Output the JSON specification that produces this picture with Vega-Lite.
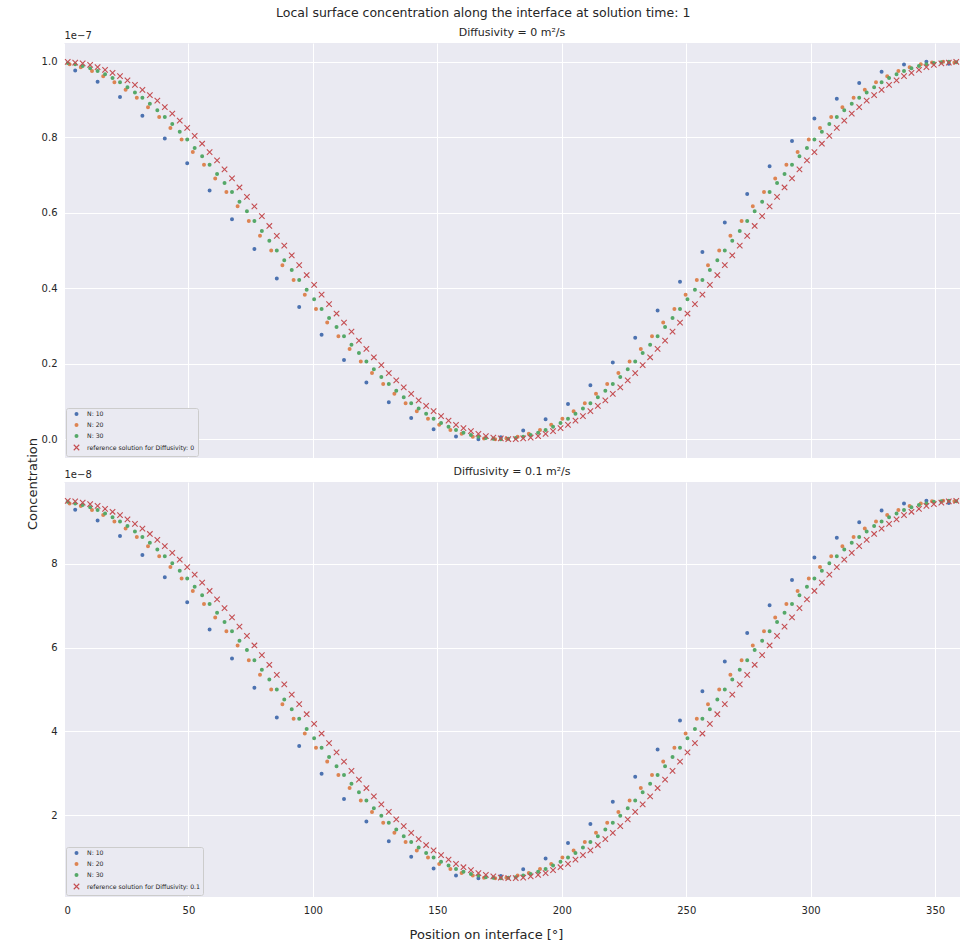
{
"$schema": "https://vega.github.io/schema/vega-lite/v6.json",
"background": "white",
"autosize": {"type": "pad"},
"padding": {"left": 27, "top": 6, "right": 2, "bottom": 1},
"title": {"text": "Local surface concentration along the interface at solution time: 1", "anchor": "middle", "fontSize": 12.5, "fontWeight": "normal", "color": "#262626", "offset": 8, "dx": -11, "font": "DejaVu Sans"},
"config": {
  "font": "DejaVu Sans",
  "view": {"fill": "#eaeaf2", "stroke": null},
  "axis": {"domain": false, "ticks": false, "grid": true, "gridColor": "#ffffff", "gridWidth": 1, "gridOpacity": 1, "labelColor": "#262626", "labelFontSize": 10, "titleColor": "#262626", "titleFontWeight": "normal", "labelFont": "DejaVu Sans", "titleFont": "DejaVu Sans", "labelPadding": 7},
  "title": {"font": "DejaVu Sans", "color": "#262626", "fontWeight": "normal"},
  "legend": {"labelFont": "DejaVu Sans"}
},
"datasets": {
"top": [
{"s":"10","x":4.5,"y":0.977},{"s":"10","x":13.5,"y":0.947},{"s":"10","x":22.5,"y":0.907},{"s":"10","x":31.5,"y":0.857},{"s":"10","x":40.5,"y":0.797},{"s":"10","x":49.5,"y":0.731},{"s":"10","x":58.5,"y":0.659},{"s":"10","x":67.5,"y":0.583},{"s":"10","x":76.5,"y":0.504},{"s":"10","x":85.5,"y":0.426},{"s":"10","x":94.5,"y":0.35},{"s":"10","x":103.5,"y":0.277},{"s":"10","x":112.5,"y":0.21},{"s":"10","x":121.5,"y":0.15},{"s":"10","x":130.5,"y":0.098},{"s":"10","x":139.5,"y":0.056},{"s":"10","x":148.5,"y":0.026},{"s":"10","x":157.5,"y":0.007},{"s":"10","x":166.5,"y":0},{"s":"10","x":175.5,"y":0.005},{"s":"10","x":184.5,"y":0.023},{"s":"10","x":193.5,"y":0.053},{"s":"10","x":202.5,"y":0.093},{"s":"10","x":211.5,"y":0.143},{"s":"10","x":220.5,"y":0.203},{"s":"10","x":229.5,"y":0.269},{"s":"10","x":238.5,"y":0.341},{"s":"10","x":247.5,"y":0.417},{"s":"10","x":256.5,"y":0.496},{"s":"10","x":265.5,"y":0.574},{"s":"10","x":274.5,"y":0.65},{"s":"10","x":283.5,"y":0.723},{"s":"10","x":292.5,"y":0.79},{"s":"10","x":301.5,"y":0.85},{"s":"10","x":310.5,"y":0.902},{"s":"10","x":319.5,"y":0.944},{"s":"10","x":328.5,"y":0.974},{"s":"10","x":337.5,"y":0.993},{"s":"10","x":346.5,"y":1},{"s":"10","x":355.5,"y":0.995},
{"s":"20","x":2.25,"y":0.994},{"s":"20","x":6.75,"y":0.986},{"s":"20","x":11.25,"y":0.976},{"s":"20","x":15.75,"y":0.962},{"s":"20","x":20.25,"y":0.946},{"s":"20","x":24.75,"y":0.926},{"s":"20","x":29.25,"y":0.905},{"s":"20","x":33.75,"y":0.88},{"s":"20","x":38.25,"y":0.854},{"s":"20","x":42.75,"y":0.825},{"s":"20","x":47.25,"y":0.794},{"s":"20","x":51.75,"y":0.761},{"s":"20","x":56.25,"y":0.727},{"s":"20","x":60.75,"y":0.691},{"s":"20","x":65.25,"y":0.655},{"s":"20","x":69.75,"y":0.617},{"s":"20","x":74.25,"y":0.578},{"s":"20","x":78.75,"y":0.539},{"s":"20","x":83.25,"y":0.5},{"s":"20","x":87.75,"y":0.461},{"s":"20","x":92.25,"y":0.422},{"s":"20","x":96.75,"y":0.383},{"s":"20","x":101.25,"y":0.345},{"s":"20","x":105.75,"y":0.309},{"s":"20","x":110.25,"y":0.273},{"s":"20","x":114.75,"y":0.239},{"s":"20","x":119.25,"y":0.206},{"s":"20","x":123.75,"y":0.175},{"s":"20","x":128.25,"y":0.146},{"s":"20","x":132.75,"y":0.12},{"s":"20","x":137.25,"y":0.095},{"s":"20","x":141.75,"y":0.074},{"s":"20","x":146.25,"y":0.054},{"s":"20","x":150.75,"y":0.038},{"s":"20","x":155.25,"y":0.024},{"s":"20","x":159.75,"y":0.014},{"s":"20","x":164.25,"y":0.006},{"s":"20","x":168.75,"y":0.002},{"s":"20","x":173.25,"y":0},{"s":"20","x":177.75,"y":0.002},{"s":"20","x":182.25,"y":0.006},{"s":"20","x":186.75,"y":0.014},{"s":"20","x":191.25,"y":0.024},{"s":"20","x":195.75,"y":0.038},{"s":"20","x":200.25,"y":0.054},{"s":"20","x":204.75,"y":0.074},{"s":"20","x":209.25,"y":0.095},{"s":"20","x":213.75,"y":0.12},{"s":"20","x":218.25,"y":0.146},{"s":"20","x":222.75,"y":0.175},{"s":"20","x":227.25,"y":0.206},{"s":"20","x":231.75,"y":0.239},{"s":"20","x":236.25,"y":0.273},{"s":"20","x":240.75,"y":0.309},{"s":"20","x":245.25,"y":0.345},{"s":"20","x":249.75,"y":0.383},{"s":"20","x":254.25,"y":0.422},{"s":"20","x":258.75,"y":0.461},{"s":"20","x":263.25,"y":0.5},{"s":"20","x":267.75,"y":0.539},{"s":"20","x":272.25,"y":0.578},{"s":"20","x":276.75,"y":0.617},{"s":"20","x":281.25,"y":0.655},{"s":"20","x":285.75,"y":0.691},{"s":"20","x":290.25,"y":0.727},{"s":"20","x":294.75,"y":0.761},{"s":"20","x":299.25,"y":0.794},{"s":"20","x":303.75,"y":0.825},{"s":"20","x":308.25,"y":0.854},{"s":"20","x":312.75,"y":0.88},{"s":"20","x":317.25,"y":0.905},{"s":"20","x":321.75,"y":0.926},{"s":"20","x":326.25,"y":0.946},{"s":"20","x":330.75,"y":0.962},{"s":"20","x":335.25,"y":0.976},{"s":"20","x":339.75,"y":0.986},{"s":"20","x":344.25,"y":0.994},{"s":"20","x":348.75,"y":0.998},{"s":"20","x":353.25,"y":1},{"s":"20","x":357.75,"y":0.998},
{"s":"30","x":1.5,"y":0.997},{"s":"30","x":4.5,"y":0.994},{"s":"30","x":7.5,"y":0.989},{"s":"30","x":10.5,"y":0.983},{"s":"30","x":13.5,"y":0.976},{"s":"30","x":16.5,"y":0.967},{"s":"30","x":19.5,"y":0.957},{"s":"30","x":22.5,"y":0.946},{"s":"30","x":25.5,"y":0.933},{"s":"30","x":28.5,"y":0.919},{"s":"30","x":31.5,"y":0.905},{"s":"30","x":34.5,"y":0.889},{"s":"30","x":37.5,"y":0.872},{"s":"30","x":40.5,"y":0.854},{"s":"30","x":43.5,"y":0.835},{"s":"30","x":46.5,"y":0.815},{"s":"30","x":49.5,"y":0.794},{"s":"30","x":52.5,"y":0.772},{"s":"30","x":55.5,"y":0.75},{"s":"30","x":58.5,"y":0.727},{"s":"30","x":61.5,"y":0.703},{"s":"30","x":64.5,"y":0.679},{"s":"30","x":67.5,"y":0.655},{"s":"30","x":70.5,"y":0.629},{"s":"30","x":73.5,"y":0.604},{"s":"30","x":76.5,"y":0.578},{"s":"30","x":79.5,"y":0.552},{"s":"30","x":82.5,"y":0.526},{"s":"30","x":85.5,"y":0.5},{"s":"30","x":88.5,"y":0.474},{"s":"30","x":91.5,"y":0.448},{"s":"30","x":94.5,"y":0.422},{"s":"30","x":97.5,"y":0.396},{"s":"30","x":100.5,"y":0.371},{"s":"30","x":103.5,"y":0.345},{"s":"30","x":106.5,"y":0.321},{"s":"30","x":109.5,"y":0.297},{"s":"30","x":112.5,"y":0.273},{"s":"30","x":115.5,"y":0.25},{"s":"30","x":118.5,"y":0.228},{"s":"30","x":121.5,"y":0.206},{"s":"30","x":124.5,"y":0.185},{"s":"30","x":127.5,"y":0.165},{"s":"30","x":130.5,"y":0.146},{"s":"30","x":133.5,"y":0.128},{"s":"30","x":136.5,"y":0.111},{"s":"30","x":139.5,"y":0.095},{"s":"30","x":142.5,"y":0.081},{"s":"30","x":145.5,"y":0.067},{"s":"30","x":148.5,"y":0.054},{"s":"30","x":151.5,"y":0.043},{"s":"30","x":154.5,"y":0.033},{"s":"30","x":157.5,"y":0.024},{"s":"30","x":160.5,"y":0.017},{"s":"30","x":163.5,"y":0.011},{"s":"30","x":166.5,"y":0.006},{"s":"30","x":169.5,"y":0.003},{"s":"30","x":172.5,"y":0.001},{"s":"30","x":175.5,"y":0},{"s":"30","x":178.5,"y":0.001},{"s":"30","x":181.5,"y":0.003},{"s":"30","x":184.5,"y":0.006},{"s":"30","x":187.5,"y":0.011},{"s":"30","x":190.5,"y":0.017},{"s":"30","x":193.5,"y":0.024},{"s":"30","x":196.5,"y":0.033},{"s":"30","x":199.5,"y":0.043},{"s":"30","x":202.5,"y":0.054},{"s":"30","x":205.5,"y":0.067},{"s":"30","x":208.5,"y":0.081},{"s":"30","x":211.5,"y":0.095},{"s":"30","x":214.5,"y":0.111},{"s":"30","x":217.5,"y":0.128},{"s":"30","x":220.5,"y":0.146},{"s":"30","x":223.5,"y":0.165},{"s":"30","x":226.5,"y":0.185},{"s":"30","x":229.5,"y":0.206},{"s":"30","x":232.5,"y":0.228},{"s":"30","x":235.5,"y":0.25},{"s":"30","x":238.5,"y":0.273},{"s":"30","x":241.5,"y":0.297},{"s":"30","x":244.5,"y":0.321},{"s":"30","x":247.5,"y":0.345},{"s":"30","x":250.5,"y":0.371},{"s":"30","x":253.5,"y":0.396},{"s":"30","x":256.5,"y":0.422},{"s":"30","x":259.5,"y":0.448},{"s":"30","x":262.5,"y":0.474},{"s":"30","x":265.5,"y":0.5},{"s":"30","x":268.5,"y":0.526},{"s":"30","x":271.5,"y":0.552},{"s":"30","x":274.5,"y":0.578},{"s":"30","x":277.5,"y":0.604},{"s":"30","x":280.5,"y":0.629},{"s":"30","x":283.5,"y":0.655},{"s":"30","x":286.5,"y":0.679},{"s":"30","x":289.5,"y":0.703},{"s":"30","x":292.5,"y":0.727},{"s":"30","x":295.5,"y":0.75},{"s":"30","x":298.5,"y":0.772},{"s":"30","x":301.5,"y":0.794},{"s":"30","x":304.5,"y":0.815},{"s":"30","x":307.5,"y":0.835},{"s":"30","x":310.5,"y":0.854},{"s":"30","x":313.5,"y":0.872},{"s":"30","x":316.5,"y":0.889},{"s":"30","x":319.5,"y":0.905},{"s":"30","x":322.5,"y":0.919},{"s":"30","x":325.5,"y":0.933},{"s":"30","x":328.5,"y":0.946},{"s":"30","x":331.5,"y":0.957},{"s":"30","x":334.5,"y":0.967},{"s":"30","x":337.5,"y":0.976},{"s":"30","x":340.5,"y":0.983},{"s":"30","x":343.5,"y":0.989},{"s":"30","x":346.5,"y":0.994},{"s":"30","x":349.5,"y":0.997},{"s":"30","x":352.5,"y":0.999},{"s":"30","x":355.5,"y":1},{"s":"30","x":358.5,"y":0.999},
{"s":"r","x":1.5,"y":1},{"s":"r","x":4.5,"y":0.998},{"s":"r","x":7.5,"y":0.996},{"s":"r","x":10.5,"y":0.992},{"s":"r","x":13.5,"y":0.986},{"s":"r","x":16.5,"y":0.979},{"s":"r","x":19.5,"y":0.971},{"s":"r","x":22.5,"y":0.962},{"s":"r","x":25.5,"y":0.951},{"s":"r","x":28.5,"y":0.939},{"s":"r","x":31.5,"y":0.926},{"s":"r","x":34.5,"y":0.912},{"s":"r","x":37.5,"y":0.897},{"s":"r","x":40.5,"y":0.88},{"s":"r","x":43.5,"y":0.863},{"s":"r","x":46.5,"y":0.844},{"s":"r","x":49.5,"y":0.825},{"s":"r","x":52.5,"y":0.804},{"s":"r","x":55.5,"y":0.783},{"s":"r","x":58.5,"y":0.761},{"s":"r","x":61.5,"y":0.739},{"s":"r","x":64.5,"y":0.715},{"s":"r","x":67.5,"y":0.691},{"s":"r","x":70.5,"y":0.667},{"s":"r","x":73.5,"y":0.642},{"s":"r","x":76.5,"y":0.617},{"s":"r","x":79.5,"y":0.591},{"s":"r","x":82.5,"y":0.565},{"s":"r","x":85.5,"y":0.539},{"s":"r","x":88.5,"y":0.513},{"s":"r","x":91.5,"y":0.487},{"s":"r","x":94.5,"y":0.461},{"s":"r","x":97.5,"y":0.435},{"s":"r","x":100.5,"y":0.409},{"s":"r","x":103.5,"y":0.383},{"s":"r","x":106.5,"y":0.358},{"s":"r","x":109.5,"y":0.333},{"s":"r","x":112.5,"y":0.309},{"s":"r","x":115.5,"y":0.285},{"s":"r","x":118.5,"y":0.261},{"s":"r","x":121.5,"y":0.239},{"s":"r","x":124.5,"y":0.217},{"s":"r","x":127.5,"y":0.196},{"s":"r","x":130.5,"y":0.175},{"s":"r","x":133.5,"y":0.156},{"s":"r","x":136.5,"y":0.137},{"s":"r","x":139.5,"y":0.12},{"s":"r","x":142.5,"y":0.103},{"s":"r","x":145.5,"y":0.088},{"s":"r","x":148.5,"y":0.074},{"s":"r","x":151.5,"y":0.061},{"s":"r","x":154.5,"y":0.049},{"s":"r","x":157.5,"y":0.038},{"s":"r","x":160.5,"y":0.029},{"s":"r","x":163.5,"y":0.021},{"s":"r","x":166.5,"y":0.014},{"s":"r","x":169.5,"y":0.008},{"s":"r","x":172.5,"y":0.004},{"s":"r","x":175.5,"y":0.002},{"s":"r","x":178.5,"y":0},{"s":"r","x":181.5,"y":0},{"s":"r","x":184.5,"y":0.002},{"s":"r","x":187.5,"y":0.004},{"s":"r","x":190.5,"y":0.008},{"s":"r","x":193.5,"y":0.014},{"s":"r","x":196.5,"y":0.021},{"s":"r","x":199.5,"y":0.029},{"s":"r","x":202.5,"y":0.038},{"s":"r","x":205.5,"y":0.049},{"s":"r","x":208.5,"y":0.061},{"s":"r","x":211.5,"y":0.074},{"s":"r","x":214.5,"y":0.088},{"s":"r","x":217.5,"y":0.103},{"s":"r","x":220.5,"y":0.12},{"s":"r","x":223.5,"y":0.137},{"s":"r","x":226.5,"y":0.156},{"s":"r","x":229.5,"y":0.175},{"s":"r","x":232.5,"y":0.196},{"s":"r","x":235.5,"y":0.217},{"s":"r","x":238.5,"y":0.239},{"s":"r","x":241.5,"y":0.261},{"s":"r","x":244.5,"y":0.285},{"s":"r","x":247.5,"y":0.309},{"s":"r","x":250.5,"y":0.333},{"s":"r","x":253.5,"y":0.358},{"s":"r","x":256.5,"y":0.383},{"s":"r","x":259.5,"y":0.409},{"s":"r","x":262.5,"y":0.435},{"s":"r","x":265.5,"y":0.461},{"s":"r","x":268.5,"y":0.487},{"s":"r","x":271.5,"y":0.513},{"s":"r","x":274.5,"y":0.539},{"s":"r","x":277.5,"y":0.565},{"s":"r","x":280.5,"y":0.591},{"s":"r","x":283.5,"y":0.617},{"s":"r","x":286.5,"y":0.642},{"s":"r","x":289.5,"y":0.667},{"s":"r","x":292.5,"y":0.691},{"s":"r","x":295.5,"y":0.715},{"s":"r","x":298.5,"y":0.739},{"s":"r","x":301.5,"y":0.761},{"s":"r","x":304.5,"y":0.783},{"s":"r","x":307.5,"y":0.804},{"s":"r","x":310.5,"y":0.825},{"s":"r","x":313.5,"y":0.844},{"s":"r","x":316.5,"y":0.863},{"s":"r","x":319.5,"y":0.88},{"s":"r","x":322.5,"y":0.897},{"s":"r","x":325.5,"y":0.912},{"s":"r","x":328.5,"y":0.926},{"s":"r","x":331.5,"y":0.939},{"s":"r","x":334.5,"y":0.951},{"s":"r","x":337.5,"y":0.962},{"s":"r","x":340.5,"y":0.971},{"s":"r","x":343.5,"y":0.979},{"s":"r","x":346.5,"y":0.986},{"s":"r","x":349.5,"y":0.992},{"s":"r","x":352.5,"y":0.996},{"s":"r","x":355.5,"y":0.998},{"s":"r","x":358.5,"y":1}
],
"bot": [
{"s":"10","x":4.5,"y":9.29},{"s":"10","x":13.5,"y":9.03},{"s":"10","x":22.5,"y":8.66},{"s":"10","x":31.5,"y":8.21},{"s":"10","x":40.5,"y":7.68},{"s":"10","x":49.5,"y":7.08},{"s":"10","x":58.5,"y":6.43},{"s":"10","x":67.5,"y":5.74},{"s":"10","x":76.5,"y":5.04},{"s":"10","x":85.5,"y":4.33},{"s":"10","x":94.5,"y":3.65},{"s":"10","x":103.5,"y":2.99},{"s":"10","x":112.5,"y":2.39},{"s":"10","x":121.5,"y":1.85},{"s":"10","x":130.5,"y":1.38},{"s":"10","x":139.5,"y":1.01},{"s":"10","x":148.5,"y":0.73},{"s":"10","x":157.5,"y":0.56},{"s":"10","x":166.5,"y":0.5},{"s":"10","x":175.5,"y":0.55},{"s":"10","x":184.5,"y":0.71},{"s":"10","x":193.5,"y":0.97},{"s":"10","x":202.5,"y":1.34},{"s":"10","x":211.5,"y":1.79},{"s":"10","x":220.5,"y":2.32},{"s":"10","x":229.5,"y":2.92},{"s":"10","x":238.5,"y":3.57},{"s":"10","x":247.5,"y":4.26},{"s":"10","x":256.5,"y":4.96},{"s":"10","x":265.5,"y":5.67},{"s":"10","x":274.5,"y":6.35},{"s":"10","x":283.5,"y":7.01},{"s":"10","x":292.5,"y":7.61},{"s":"10","x":301.5,"y":8.15},{"s":"10","x":310.5,"y":8.62},{"s":"10","x":319.5,"y":8.99},{"s":"10","x":328.5,"y":9.27},{"s":"10","x":337.5,"y":9.44},{"s":"10","x":346.5,"y":9.5},{"s":"10","x":355.5,"y":9.45},
{"s":"20","x":2.25,"y":9.44},{"s":"20","x":6.75,"y":9.38},{"s":"20","x":11.25,"y":9.28},{"s":"20","x":15.75,"y":9.16},{"s":"20","x":20.25,"y":9.01},{"s":"20","x":24.75,"y":8.84},{"s":"20","x":29.25,"y":8.64},{"s":"20","x":33.75,"y":8.42},{"s":"20","x":38.25,"y":8.18},{"s":"20","x":42.75,"y":7.92},{"s":"20","x":47.25,"y":7.65},{"s":"20","x":51.75,"y":7.35},{"s":"20","x":56.25,"y":7.04},{"s":"20","x":60.75,"y":6.72},{"s":"20","x":65.25,"y":6.39},{"s":"20","x":69.75,"y":6.05},{"s":"20","x":74.25,"y":5.7},{"s":"20","x":78.75,"y":5.35},{"s":"20","x":83.25,"y":5},{"s":"20","x":87.75,"y":4.65},{"s":"20","x":92.25,"y":4.3},{"s":"20","x":96.75,"y":3.95},{"s":"20","x":101.25,"y":3.61},{"s":"20","x":105.75,"y":3.28},{"s":"20","x":110.25,"y":2.96},{"s":"20","x":114.75,"y":2.65},{"s":"20","x":119.25,"y":2.35},{"s":"20","x":123.75,"y":2.08},{"s":"20","x":128.25,"y":1.82},{"s":"20","x":132.75,"y":1.58},{"s":"20","x":137.25,"y":1.36},{"s":"20","x":141.75,"y":1.16},{"s":"20","x":146.25,"y":0.99},{"s":"20","x":150.75,"y":0.84},{"s":"20","x":155.25,"y":0.72},{"s":"20","x":159.75,"y":0.62},{"s":"20","x":164.25,"y":0.56},{"s":"20","x":168.75,"y":0.51},{"s":"20","x":173.25,"y":0.5},{"s":"20","x":177.75,"y":0.51},{"s":"20","x":182.25,"y":0.56},{"s":"20","x":186.75,"y":0.62},{"s":"20","x":191.25,"y":0.72},{"s":"20","x":195.75,"y":0.84},{"s":"20","x":200.25,"y":0.99},{"s":"20","x":204.75,"y":1.16},{"s":"20","x":209.25,"y":1.36},{"s":"20","x":213.75,"y":1.58},{"s":"20","x":218.25,"y":1.82},{"s":"20","x":222.75,"y":2.08},{"s":"20","x":227.25,"y":2.35},{"s":"20","x":231.75,"y":2.65},{"s":"20","x":236.25,"y":2.96},{"s":"20","x":240.75,"y":3.28},{"s":"20","x":245.25,"y":3.61},{"s":"20","x":249.75,"y":3.95},{"s":"20","x":254.25,"y":4.3},{"s":"20","x":258.75,"y":4.65},{"s":"20","x":263.25,"y":5},{"s":"20","x":267.75,"y":5.35},{"s":"20","x":272.25,"y":5.7},{"s":"20","x":276.75,"y":6.05},{"s":"20","x":281.25,"y":6.39},{"s":"20","x":285.75,"y":6.72},{"s":"20","x":290.25,"y":7.04},{"s":"20","x":294.75,"y":7.35},{"s":"20","x":299.25,"y":7.65},{"s":"20","x":303.75,"y":7.92},{"s":"20","x":308.25,"y":8.18},{"s":"20","x":312.75,"y":8.42},{"s":"20","x":317.25,"y":8.64},{"s":"20","x":321.75,"y":8.84},{"s":"20","x":326.25,"y":9.01},{"s":"20","x":330.75,"y":9.16},{"s":"20","x":335.25,"y":9.28},{"s":"20","x":339.75,"y":9.38},{"s":"20","x":344.25,"y":9.44},{"s":"20","x":348.75,"y":9.49},{"s":"20","x":353.25,"y":9.5},{"s":"20","x":357.75,"y":9.49},
{"s":"30","x":1.5,"y":9.48},{"s":"30","x":4.5,"y":9.44},{"s":"30","x":7.5,"y":9.4},{"s":"30","x":10.5,"y":9.35},{"s":"30","x":13.5,"y":9.28},{"s":"30","x":16.5,"y":9.2},{"s":"30","x":19.5,"y":9.11},{"s":"30","x":22.5,"y":9.01},{"s":"30","x":25.5,"y":8.9},{"s":"30","x":28.5,"y":8.77},{"s":"30","x":31.5,"y":8.64},{"s":"30","x":34.5,"y":8.5},{"s":"30","x":37.5,"y":8.34},{"s":"30","x":40.5,"y":8.18},{"s":"30","x":43.5,"y":8.01},{"s":"30","x":46.5,"y":7.83},{"s":"30","x":49.5,"y":7.65},{"s":"30","x":52.5,"y":7.45},{"s":"30","x":55.5,"y":7.25},{"s":"30","x":58.5,"y":7.04},{"s":"30","x":61.5,"y":6.83},{"s":"30","x":64.5,"y":6.61},{"s":"30","x":67.5,"y":6.39},{"s":"30","x":70.5,"y":6.16},{"s":"30","x":73.5,"y":5.94},{"s":"30","x":76.5,"y":5.7},{"s":"30","x":79.5,"y":5.47},{"s":"30","x":82.5,"y":5.24},{"s":"30","x":85.5,"y":5},{"s":"30","x":88.5,"y":4.76},{"s":"30","x":91.5,"y":4.53},{"s":"30","x":94.5,"y":4.3},{"s":"30","x":97.5,"y":4.06},{"s":"30","x":100.5,"y":3.84},{"s":"30","x":103.5,"y":3.61},{"s":"30","x":106.5,"y":3.39},{"s":"30","x":109.5,"y":3.17},{"s":"30","x":112.5,"y":2.96},{"s":"30","x":115.5,"y":2.75},{"s":"30","x":118.5,"y":2.55},{"s":"30","x":121.5,"y":2.35},{"s":"30","x":124.5,"y":2.17},{"s":"30","x":127.5,"y":1.99},{"s":"30","x":130.5,"y":1.82},{"s":"30","x":133.5,"y":1.66},{"s":"30","x":136.5,"y":1.5},{"s":"30","x":139.5,"y":1.36},{"s":"30","x":142.5,"y":1.23},{"s":"30","x":145.5,"y":1.1},{"s":"30","x":148.5,"y":0.99},{"s":"30","x":151.5,"y":0.89},{"s":"30","x":154.5,"y":0.8},{"s":"30","x":157.5,"y":0.72},{"s":"30","x":160.5,"y":0.65},{"s":"30","x":163.5,"y":0.6},{"s":"30","x":166.5,"y":0.56},{"s":"30","x":169.5,"y":0.52},{"s":"30","x":172.5,"y":0.51},{"s":"30","x":175.5,"y":0.5},{"s":"30","x":178.5,"y":0.51},{"s":"30","x":181.5,"y":0.52},{"s":"30","x":184.5,"y":0.56},{"s":"30","x":187.5,"y":0.6},{"s":"30","x":190.5,"y":0.65},{"s":"30","x":193.5,"y":0.72},{"s":"30","x":196.5,"y":0.8},{"s":"30","x":199.5,"y":0.89},{"s":"30","x":202.5,"y":0.99},{"s":"30","x":205.5,"y":1.1},{"s":"30","x":208.5,"y":1.23},{"s":"30","x":211.5,"y":1.36},{"s":"30","x":214.5,"y":1.5},{"s":"30","x":217.5,"y":1.66},{"s":"30","x":220.5,"y":1.82},{"s":"30","x":223.5,"y":1.99},{"s":"30","x":226.5,"y":2.17},{"s":"30","x":229.5,"y":2.35},{"s":"30","x":232.5,"y":2.55},{"s":"30","x":235.5,"y":2.75},{"s":"30","x":238.5,"y":2.96},{"s":"30","x":241.5,"y":3.17},{"s":"30","x":244.5,"y":3.39},{"s":"30","x":247.5,"y":3.61},{"s":"30","x":250.5,"y":3.84},{"s":"30","x":253.5,"y":4.06},{"s":"30","x":256.5,"y":4.3},{"s":"30","x":259.5,"y":4.53},{"s":"30","x":262.5,"y":4.76},{"s":"30","x":265.5,"y":5},{"s":"30","x":268.5,"y":5.24},{"s":"30","x":271.5,"y":5.47},{"s":"30","x":274.5,"y":5.7},{"s":"30","x":277.5,"y":5.94},{"s":"30","x":280.5,"y":6.16},{"s":"30","x":283.5,"y":6.39},{"s":"30","x":286.5,"y":6.61},{"s":"30","x":289.5,"y":6.83},{"s":"30","x":292.5,"y":7.04},{"s":"30","x":295.5,"y":7.25},{"s":"30","x":298.5,"y":7.45},{"s":"30","x":301.5,"y":7.65},{"s":"30","x":304.5,"y":7.83},{"s":"30","x":307.5,"y":8.01},{"s":"30","x":310.5,"y":8.18},{"s":"30","x":313.5,"y":8.34},{"s":"30","x":316.5,"y":8.5},{"s":"30","x":319.5,"y":8.64},{"s":"30","x":322.5,"y":8.77},{"s":"30","x":325.5,"y":8.9},{"s":"30","x":328.5,"y":9.01},{"s":"30","x":331.5,"y":9.11},{"s":"30","x":334.5,"y":9.2},{"s":"30","x":337.5,"y":9.28},{"s":"30","x":340.5,"y":9.35},{"s":"30","x":343.5,"y":9.4},{"s":"30","x":346.5,"y":9.44},{"s":"30","x":349.5,"y":9.48},{"s":"30","x":352.5,"y":9.49},{"s":"30","x":355.5,"y":9.5},{"s":"30","x":358.5,"y":9.49},
{"s":"r","x":1.5,"y":9.5},{"s":"r","x":4.5,"y":9.49},{"s":"r","x":7.5,"y":9.46},{"s":"r","x":10.5,"y":9.42},{"s":"r","x":13.5,"y":9.38},{"s":"r","x":16.5,"y":9.31},{"s":"r","x":19.5,"y":9.24},{"s":"r","x":22.5,"y":9.16},{"s":"r","x":25.5,"y":9.06},{"s":"r","x":28.5,"y":8.95},{"s":"r","x":31.5,"y":8.84},{"s":"r","x":34.5,"y":8.71},{"s":"r","x":37.5,"y":8.57},{"s":"r","x":40.5,"y":8.42},{"s":"r","x":43.5,"y":8.26},{"s":"r","x":46.5,"y":8.1},{"s":"r","x":49.5,"y":7.92},{"s":"r","x":52.5,"y":7.74},{"s":"r","x":55.5,"y":7.55},{"s":"r","x":58.5,"y":7.35},{"s":"r","x":61.5,"y":7.15},{"s":"r","x":64.5,"y":6.94},{"s":"r","x":67.5,"y":6.72},{"s":"r","x":70.5,"y":6.5},{"s":"r","x":73.5,"y":6.28},{"s":"r","x":76.5,"y":6.05},{"s":"r","x":79.5,"y":5.82},{"s":"r","x":82.5,"y":5.59},{"s":"r","x":85.5,"y":5.35},{"s":"r","x":88.5,"y":5.12},{"s":"r","x":91.5,"y":4.88},{"s":"r","x":94.5,"y":4.65},{"s":"r","x":97.5,"y":4.41},{"s":"r","x":100.5,"y":4.18},{"s":"r","x":103.5,"y":3.95},{"s":"r","x":106.5,"y":3.72},{"s":"r","x":109.5,"y":3.5},{"s":"r","x":112.5,"y":3.28},{"s":"r","x":115.5,"y":3.06},{"s":"r","x":118.5,"y":2.85},{"s":"r","x":121.5,"y":2.65},{"s":"r","x":124.5,"y":2.45},{"s":"r","x":127.5,"y":2.26},{"s":"r","x":130.5,"y":2.08},{"s":"r","x":133.5,"y":1.9},{"s":"r","x":136.5,"y":1.74},{"s":"r","x":139.5,"y":1.58},{"s":"r","x":142.5,"y":1.43},{"s":"r","x":145.5,"y":1.29},{"s":"r","x":148.5,"y":1.16},{"s":"r","x":151.5,"y":1.05},{"s":"r","x":154.5,"y":0.94},{"s":"r","x":157.5,"y":0.84},{"s":"r","x":160.5,"y":0.76},{"s":"r","x":163.5,"y":0.69},{"s":"r","x":166.5,"y":0.62},{"s":"r","x":169.5,"y":0.58},{"s":"r","x":172.5,"y":0.54},{"s":"r","x":175.5,"y":0.51},{"s":"r","x":178.5,"y":0.5},{"s":"r","x":181.5,"y":0.5},{"s":"r","x":184.5,"y":0.51},{"s":"r","x":187.5,"y":0.54},{"s":"r","x":190.5,"y":0.58},{"s":"r","x":193.5,"y":0.62},{"s":"r","x":196.5,"y":0.69},{"s":"r","x":199.5,"y":0.76},{"s":"r","x":202.5,"y":0.84},{"s":"r","x":205.5,"y":0.94},{"s":"r","x":208.5,"y":1.05},{"s":"r","x":211.5,"y":1.16},{"s":"r","x":214.5,"y":1.29},{"s":"r","x":217.5,"y":1.43},{"s":"r","x":220.5,"y":1.58},{"s":"r","x":223.5,"y":1.74},{"s":"r","x":226.5,"y":1.9},{"s":"r","x":229.5,"y":2.08},{"s":"r","x":232.5,"y":2.26},{"s":"r","x":235.5,"y":2.45},{"s":"r","x":238.5,"y":2.65},{"s":"r","x":241.5,"y":2.85},{"s":"r","x":244.5,"y":3.06},{"s":"r","x":247.5,"y":3.28},{"s":"r","x":250.5,"y":3.5},{"s":"r","x":253.5,"y":3.72},{"s":"r","x":256.5,"y":3.95},{"s":"r","x":259.5,"y":4.18},{"s":"r","x":262.5,"y":4.41},{"s":"r","x":265.5,"y":4.65},{"s":"r","x":268.5,"y":4.88},{"s":"r","x":271.5,"y":5.12},{"s":"r","x":274.5,"y":5.35},{"s":"r","x":277.5,"y":5.59},{"s":"r","x":280.5,"y":5.82},{"s":"r","x":283.5,"y":6.05},{"s":"r","x":286.5,"y":6.28},{"s":"r","x":289.5,"y":6.5},{"s":"r","x":292.5,"y":6.72},{"s":"r","x":295.5,"y":6.94},{"s":"r","x":298.5,"y":7.15},{"s":"r","x":301.5,"y":7.35},{"s":"r","x":304.5,"y":7.55},{"s":"r","x":307.5,"y":7.74},{"s":"r","x":310.5,"y":7.92},{"s":"r","x":313.5,"y":8.1},{"s":"r","x":316.5,"y":8.26},{"s":"r","x":319.5,"y":8.42},{"s":"r","x":322.5,"y":8.57},{"s":"r","x":325.5,"y":8.71},{"s":"r","x":328.5,"y":8.84},{"s":"r","x":331.5,"y":8.95},{"s":"r","x":334.5,"y":9.06},{"s":"r","x":337.5,"y":9.16},{"s":"r","x":340.5,"y":9.24},{"s":"r","x":343.5,"y":9.31},{"s":"r","x":346.5,"y":9.38},{"s":"r","x":349.5,"y":9.42},{"s":"r","x":352.5,"y":9.46},{"s":"r","x":355.5,"y":9.49},{"s":"r","x":358.5,"y":9.5}
]
},
"vconcat": [
{
"title": {"text": "Concentration", "orient": "left", "anchor": "middle", "fontSize": 13, "fontWeight": "normal", "color": "#262626", "offset": 1},
"spacing": 8,
"resolve": {"scale": {"x": "independent", "y": "independent", "color": "independent", "shape": "independent", "size": "independent", "strokeWidth": "independent"}, "legend": {"color": "independent", "shape": "independent", "size": "independent", "strokeWidth": "independent"}},
"vconcat": [
{
  "width": 896, "height": 415,
  "title": {"text": "Diffusivity = 0 m²/s", "fontSize": 11, "anchor": "middle", "offset": 0, "dy": 8},
  "data": {"name": "top"},
  "mark": {"type": "point", "filled": false, "opacity": 1},
  "encoding": {
    "x": {"field": "x", "type": "quantitative", "scale": {"domain": [0, 360], "nice": false, "zero": false}, "axis": {"values": [0, 50, 100, 150, 200, 250, 300, 350], "labels": false, "title": null}},
    "y": {"field": "y", "type": "quantitative", "scale": {"domain": [-0.05, 1.05], "nice": false, "zero": false}, "axis": {"values": [0, 0.2, 0.4, 0.6, 0.8, 1.0], "format": ".1f", "title": "1e−7", "titleAngle": 0, "titleX": 0, "titleY": -3, "titleAlign": "left", "titleBaseline": "bottom", "titleFontSize": 10}},
    "color": {"field": "s", "type": "nominal", "scale": {"domain": ["10", "20", "30", "r"], "range": ["#4c72b0", "#dd8452", "#55a868", "#c44e52"]}, "legend": {"title": null, "orient": "bottom-left", "offset": 2, "fillColor": "#eaeaf2", "strokeColor": "#cccccc", "padding": 3, "cornerRadius": 2, "labelFontSize": 6.2, "labelColor": "#262626", "rowPadding": 0, "symbolOffset": 4, "labelOffset": 7, "labelExpr": "datum.label == 'r' ? 'reference solution for Diffusivity: 0' : 'N: ' + datum.label"}},
    "shape": {"field": "s", "type": "nominal", "scale": {"domain": ["10", "20", "30", "r"], "range": ["circle", "circle", "circle", "M-1,-1L1,1M-1,1L1,-1"]}, "legend": {"title": null, "orient": "bottom-left", "offset": 2, "fillColor": "#eaeaf2", "strokeColor": "#cccccc", "padding": 3, "cornerRadius": 2, "labelFontSize": 6.2, "labelColor": "#262626", "rowPadding": 0, "symbolOffset": 4, "labelOffset": 7, "labelExpr": "datum.label == 'r' ? 'reference solution for Diffusivity: 0' : 'N: ' + datum.label"}},
    "size": {"field": "s", "type": "nominal", "scale": {"type": "ordinal", "domain": ["10", "20", "30", "r"], "range": [4, 4, 4, 30]}, "legend": {"title": null, "orient": "bottom-left", "offset": 2, "fillColor": "#eaeaf2", "strokeColor": "#cccccc", "padding": 3, "cornerRadius": 2, "labelFontSize": 6.2, "labelColor": "#262626", "rowPadding": 0, "symbolOffset": 4, "labelOffset": 7, "labelExpr": "datum.label == 'r' ? 'reference solution for Diffusivity: 0' : 'N: ' + datum.label"}},
    "strokeWidth": {"field": "s", "type": "nominal", "scale": {"type": "ordinal", "domain": ["10", "20", "30", "r"], "range": [2, 2, 2, 1.1]}, "legend": {"title": null, "orient": "bottom-left", "offset": 2, "fillColor": "#eaeaf2", "strokeColor": "#cccccc", "padding": 3, "cornerRadius": 2, "labelFontSize": 6.2, "labelColor": "#262626", "rowPadding": 0, "symbolOffset": 4, "labelOffset": 7, "labelExpr": "datum.label == 'r' ? 'reference solution for Diffusivity: 0' : 'N: ' + datum.label"}}
  }
},
{
  "width": 896, "height": 415,
  "title": {"text": "Diffusivity = 0.1 m²/s", "fontSize": 11, "anchor": "middle", "offset": 0, "dy": 8},
  "data": {"name": "bot"},
  "mark": {"type": "point", "filled": false, "opacity": 1},
  "encoding": {
    "x": {"field": "x", "type": "quantitative", "scale": {"domain": [0, 360], "nice": false, "zero": false}, "axis": {"values": [0, 50, 100, 150, 200, 250, 300, 350], "title": "Position on interface [°]", "titleFontSize": 13, "titlePadding": 13, "titleX": 422, "labelPadding": 8}},
    "y": {"field": "y", "type": "quantitative", "scale": {"domain": [0.05, 9.95], "nice": false, "zero": false}, "axis": {"values": [2, 4, 6, 8], "format": "d", "title": "1e−8", "titleAngle": 0, "titleX": 0, "titleY": -3, "titleAlign": "left", "titleBaseline": "bottom", "titleFontSize": 10}},
    "color": {"field": "s", "type": "nominal", "scale": {"domain": ["10", "20", "30", "r"], "range": ["#4c72b0", "#dd8452", "#55a868", "#c44e52"]}, "legend": {"title": null, "orient": "bottom-left", "offset": 2, "fillColor": "#eaeaf2", "strokeColor": "#cccccc", "padding": 3, "cornerRadius": 2, "labelFontSize": 6.2, "labelColor": "#262626", "rowPadding": 0, "symbolOffset": 4, "labelOffset": 7, "labelExpr": "datum.label == 'r' ? 'reference solution for Diffusivity: 0.1' : 'N: ' + datum.label"}},
    "shape": {"field": "s", "type": "nominal", "scale": {"domain": ["10", "20", "30", "r"], "range": ["circle", "circle", "circle", "M-1,-1L1,1M-1,1L1,-1"]}, "legend": {"title": null, "orient": "bottom-left", "offset": 2, "fillColor": "#eaeaf2", "strokeColor": "#cccccc", "padding": 3, "cornerRadius": 2, "labelFontSize": 6.2, "labelColor": "#262626", "rowPadding": 0, "symbolOffset": 4, "labelOffset": 7, "labelExpr": "datum.label == 'r' ? 'reference solution for Diffusivity: 0.1' : 'N: ' + datum.label"}},
    "size": {"field": "s", "type": "nominal", "scale": {"type": "ordinal", "domain": ["10", "20", "30", "r"], "range": [4, 4, 4, 30]}, "legend": {"title": null, "orient": "bottom-left", "offset": 2, "fillColor": "#eaeaf2", "strokeColor": "#cccccc", "padding": 3, "cornerRadius": 2, "labelFontSize": 6.2, "labelColor": "#262626", "rowPadding": 0, "symbolOffset": 4, "labelOffset": 7, "labelExpr": "datum.label == 'r' ? 'reference solution for Diffusivity: 0.1' : 'N: ' + datum.label"}},
    "strokeWidth": {"field": "s", "type": "nominal", "scale": {"type": "ordinal", "domain": ["10", "20", "30", "r"], "range": [2, 2, 2, 1.1]}, "legend": {"title": null, "orient": "bottom-left", "offset": 2, "fillColor": "#eaeaf2", "strokeColor": "#cccccc", "padding": 3, "cornerRadius": 2, "labelFontSize": 6.2, "labelColor": "#262626", "rowPadding": 0, "symbolOffset": 4, "labelOffset": 7, "labelExpr": "datum.label == 'r' ? 'reference solution for Diffusivity: 0.1' : 'N: ' + datum.label"}}
  }
}
]
}
]
}
